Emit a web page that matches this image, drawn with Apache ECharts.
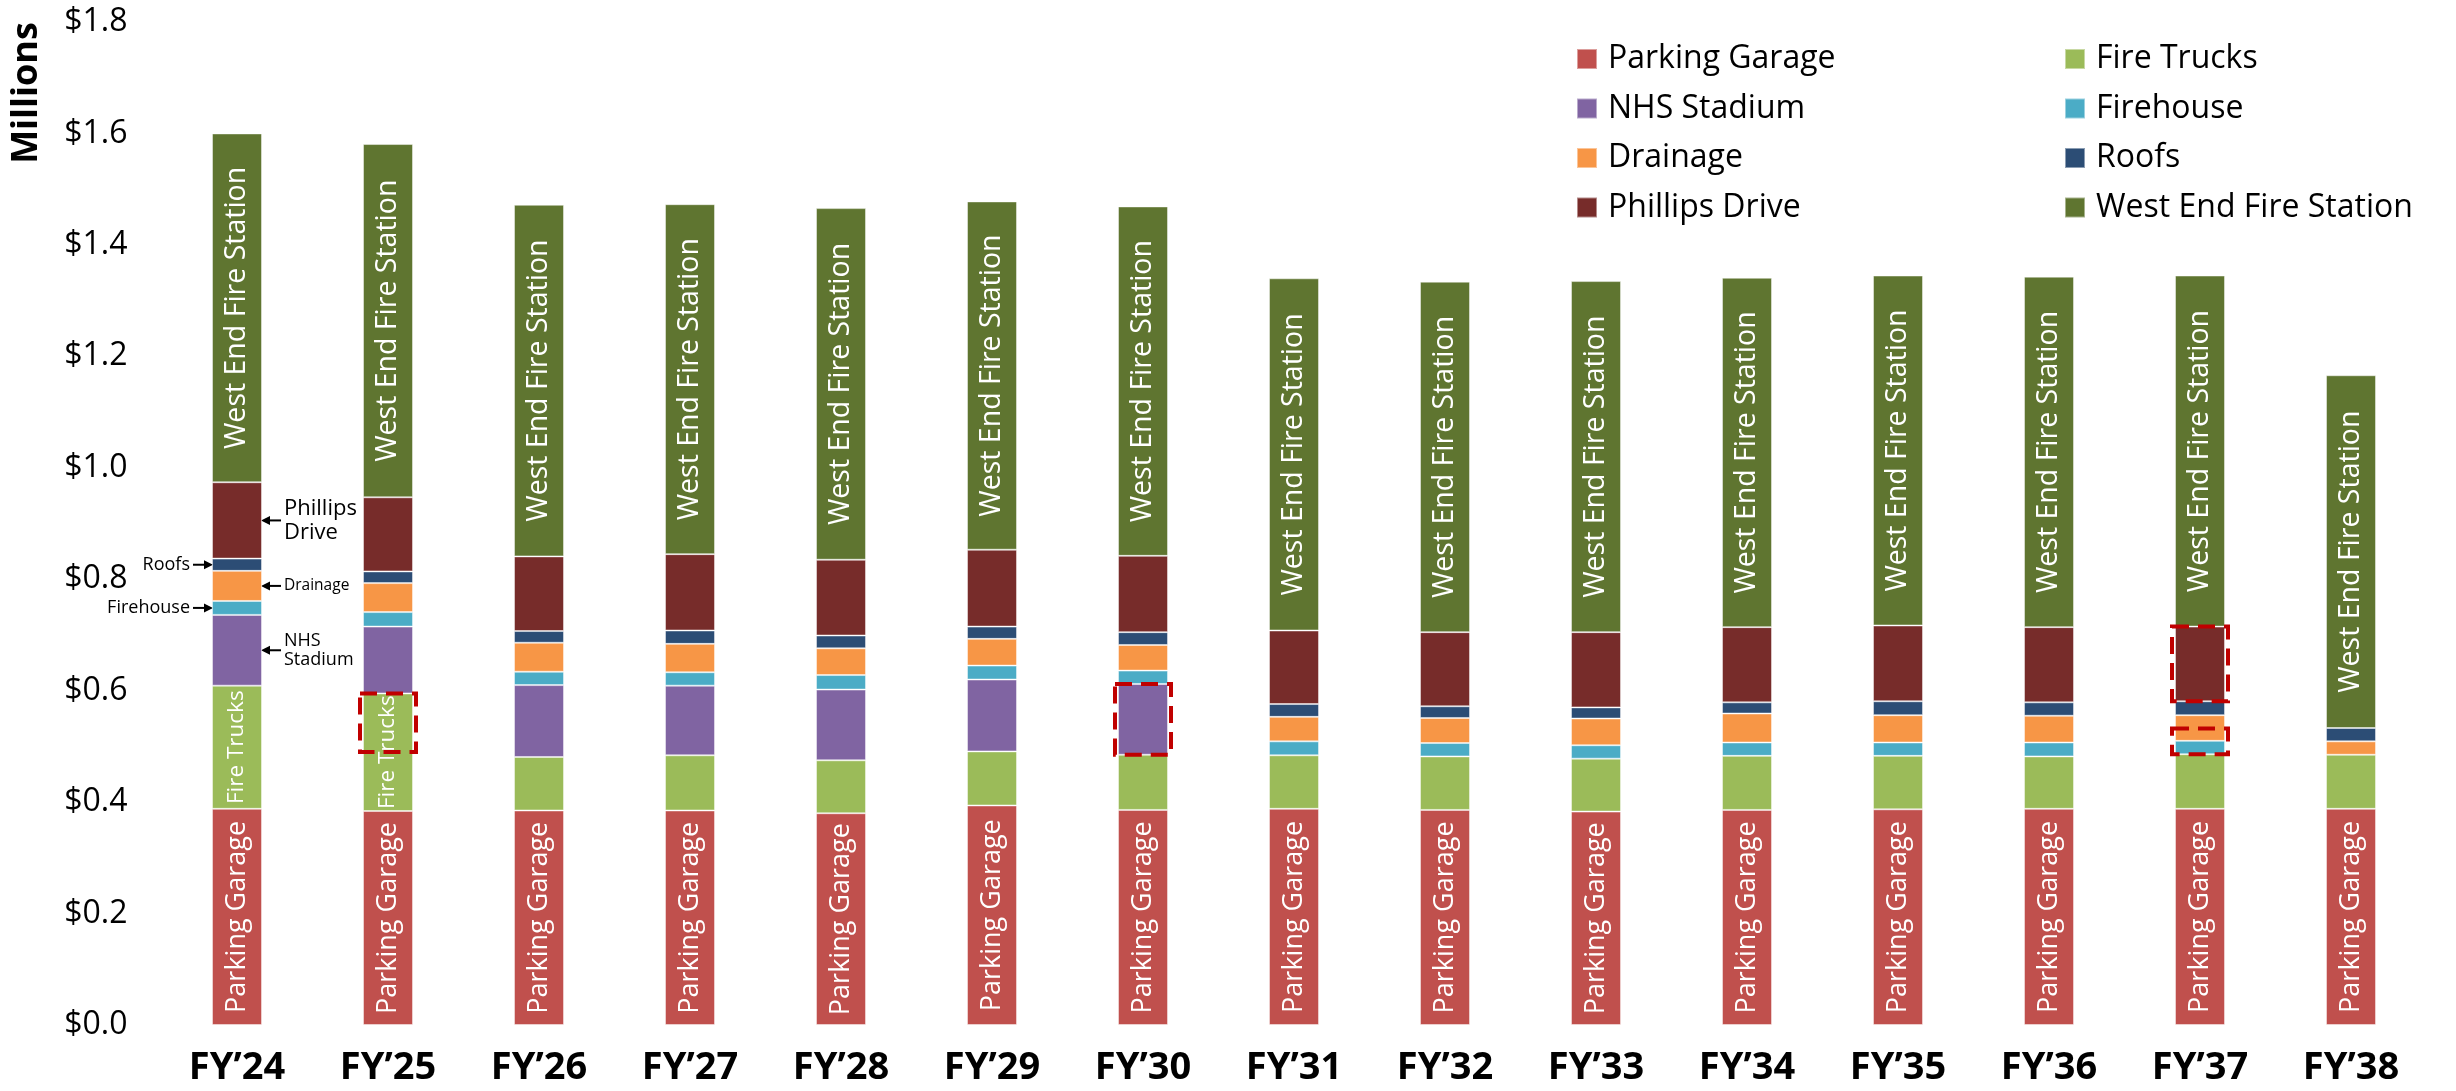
<!DOCTYPE html>
<html>
<head>
<meta charset="utf-8">
<script src="https://cdn.jsdelivr.net/npm/echarts@6/dist/echarts.min.js"></script>
<style>
  html, body { margin: 0; padding: 0; background: #ffffff; }
  #chart { width: 2456px; height: 1091px; }
</style>
</head>
<body>
<div id="chart"></div>
<script>
// Annual debt service by project, in millions of dollars
const fiscalYears = ['FY’24', 'FY’25', 'FY’26', 'FY’27', 'FY’28', 'FY’29', 'FY’30', 'FY’31',
                     'FY’32', 'FY’33', 'FY’34', 'FY’35', 'FY’36', 'FY’37', 'FY’38'];

const parkingGarage      = [0.388, 0.384, 0.385, 0.385, 0.380, 0.394, 0.386, 0.388, 0.386, 0.383, 0.386, 0.387, 0.388, 0.388, 0.388];
const fireTrucks         = [0.221, 0.211, 0.096, 0.099, 0.095, 0.097, 0.099, 0.096, 0.096, 0.095, 0.097, 0.096, 0.094, 0.098, 0.097];
const nhsStadium         = [0.127, 0.120, 0.129, 0.125, 0.127, 0.129, 0.127, 0, 0, 0, 0, 0, 0, 0, 0];
const firehouse          = [0.025, 0.026, 0.024, 0.024, 0.026, 0.025, 0.024, 0.025, 0.024, 0.024, 0.024, 0.024, 0.025, 0.024, 0];
const drainage           = [0.054, 0.052, 0.052, 0.051, 0.048, 0.048, 0.046, 0.044, 0.045, 0.048, 0.052, 0.049, 0.048, 0.046, 0.024];
const roofs              = [0.022, 0.021, 0.021, 0.024, 0.023, 0.022, 0.023, 0.023, 0.021, 0.020, 0.020, 0.025, 0.024, 0.025, 0.024];
const phillipsDrive      = [0.137, 0.133, 0.134, 0.137, 0.136, 0.138, 0.137, 0.132, 0.133, 0.135, 0.135, 0.136, 0.135, 0.134, 0];
const westEndFireStation = [0.626, 0.634, 0.631, 0.628, 0.631, 0.625, 0.627, 0.632, 0.629, 0.630, 0.627, 0.628, 0.629, 0.630, 0.633];

const yTicks = [0, 0.2, 0.4, 0.6, 0.8, 1.0, 1.2, 1.4, 1.6, 1.8];

// Call-outs on the first year: [project, text, side, font size]
const callouts = [
  ['Phillips Drive', 'Phillips\nDrive', 'right', 22],
  ['Roofs', 'Roofs', 'left', 18],
  ['Drainage', 'Drainage', 'right', 15.5],
  ['Firehouse', 'Firehouse', 'left', 18],
  ['NHS Stadium', 'NHS\nStadium', 'right', 18]
];

// Changes flagged with dashed boxes: [year, upper value, lower value]
const flaggedChanges = [
  ['FY’25', 0.595, 0.490],
  ['FY’30', 0.612, 0.485],
  ['FY’37', 0.715, 0.581],
  ['FY’37', 0.532, 0.486]
];

const FONT = 'Open Sans';
const BAR_WIDTH = 50;

// Stack order, bottom to top
const projects = [
  { name: 'Parking Garage',        values: parkingGarage,      color: '#C0504D', barText: 'Parking Garage', textSize: 27 },
  { name: 'Fire Trucks',           values: fireTrucks,         color: '#9BBB59', barText: 'Fire Trucks', textSize: 22.5, onlyFirst: 2 },
  { name: 'NHS Stadium',           values: nhsStadium,         color: '#8064A2' },
  { name: 'Firehouse',             values: firehouse,          color: '#4BACC6' },
  { name: 'Drainage',              values: drainage,           color: '#F79646' },
  { name: 'Roofs',                 values: roofs,              color: '#2C4D75' },
  { name: 'Phillips Drive',        values: phillipsDrive,      color: '#772C2A' },
  { name: 'West End Fire Station', values: westEndFireStation, color: '#5F7530', barText: 'West End Fire Station', textSize: 28.5 }
];

const chart = echarts.init(document.getElementById('chart'), null, { renderer: 'canvas' });

const series = projects.map(p => {
  const barLabel = {
    show: !!p.barText && !p.onlyFirst,
    position: 'inside',
    rotate: 90,
    color: '#ffffff',
    fontFamily: FONT,
    fontSize: p.textSize || 27,
    formatter: p.barText || ''
  };
  return {
    name: p.name,
    type: 'bar',
    stack: 'total',
    barWidth: BAR_WIDTH,
    itemStyle: { color: p.color, borderColor: 'rgba(255,255,255,0.45)', borderWidth: 1 },
    label: barLabel,
    emphasis: { disabled: true },
    data: p.values.map((v, i) => {
      if (!v) return '-';
      if (p.onlyFirst && i < p.onlyFirst) return { value: v, label: { show: true } };
      return v;
    })
  };
});

const legendBase = {
  orient: 'vertical',
  icon: 'rect',
  padding: 0,
  itemWidth: 20,
  itemHeight: 20,
  itemGap: 17.5,
  selectedMode: false,
  textStyle: { fontFamily: FONT, fontSize: 32, color: '#000', padding: [0, 0, 0, 6] }
};

chart.setOption({
  animation: false,
  backgroundColor: '#ffffff',
  grid: { left: 161.5, right: 29.5, top: 22, bottom: 66, containLabel: false },
  legend: [
    Object.assign({}, legendBase, { left: 1576, top: 43, data: ['Parking Garage', 'NHS Stadium', 'Drainage', 'Phillips Drive'] }),
    Object.assign({}, legendBase, { left: 2064, top: 43, data: ['Fire Trucks', 'Firehouse', 'Roofs', 'West End Fire Station'] })
  ],
  xAxis: {
    type: 'category',
    data: fiscalYears,
    axisLine: { show: false },
    axisTick: { show: false },
    axisLabel: { fontFamily: FONT, fontSize: 38, fontWeight: 'bold', color: '#000', margin: 24 }
  },
  yAxis: {
    type: 'value',
    min: yTicks[0],
    max: yTicks[yTicks.length - 1],
    interval: 0.2,
    splitLine: { show: false },
    axisLine: { show: false },
    axisTick: { show: false },
    axisLabel: {
      fontFamily: FONT, fontSize: 32, color: '#000', margin: 34,
      formatter: v => '$' + v.toFixed(1)
    }
  },
  series: series
});

// Annotations positioned from the data through the chart's own scales
function toPx(cat, v) {
  return chart.convertToPixel({ gridIndex: 0 }, [cat, v]);
}

const graphics = [];

graphics.push({
  type: 'text', x: 27, y: 93, rotation: Math.PI / 2,
  style: { text: 'Millions', fontFamily: FONT, fontWeight: 'bold', fontSize: 36, fill: '#000', align: 'center', verticalAlign: 'middle' }
});

const firstYear = fiscalYears[0];
callouts.forEach(([name, text, side, size]) => {
  const idx = projects.findIndex(p => p.name === name);
  let base = 0;
  for (let k = 0; k < idx; k++) base += projects[k].values[0];
  const mid = base + projects[idx].values[0] / 2;
  const [cx, cy] = toPx(firstYear, mid);
  const dir = side === 'right' ? 1 : -1;
  const edge = cx + dir * BAR_WIDTH / 2;
  const tip = edge - dir * 1;
  const start = edge + dir * 19;
  graphics.push({
    type: 'line',
    shape: { x1: start, y1: cy, x2: tip + dir * 7, y2: cy },
    style: { stroke: '#000', lineWidth: 2 }
  });
  graphics.push({
    type: 'polygon',
    shape: { points: [[tip, cy], [tip + dir * 9, cy - 4.5], [tip + dir * 9, cy + 4.5]] },
    style: { fill: '#000' }
  });
  graphics.push({
    type: 'text',
    x: start + dir * 3,
    y: cy,
    style: {
      text: text, fontFamily: FONT, fontSize: size, fill: '#000',
      lineHeight: size * 1.08,
      align: side === 'right' ? 'left' : 'right', verticalAlign: 'middle'
    }
  });
});

flaggedChanges.forEach(([cat, hi, lo]) => {
  const [cx, yTop] = toPx(cat, hi);
  const yBot = toPx(cat, lo)[1];
  const w = BAR_WIDTH + 6;
  graphics.push({
    type: 'rect',
    shape: { x: cx - w / 2, y: yTop, width: w, height: yBot - yTop },
    style: { fill: 'none', stroke: '#C00000', lineWidth: 4, lineDash: [17, 9] },
    z: 100
  });
});

chart.setOption({ graphic: graphics });
</script>
</body>
</html>
